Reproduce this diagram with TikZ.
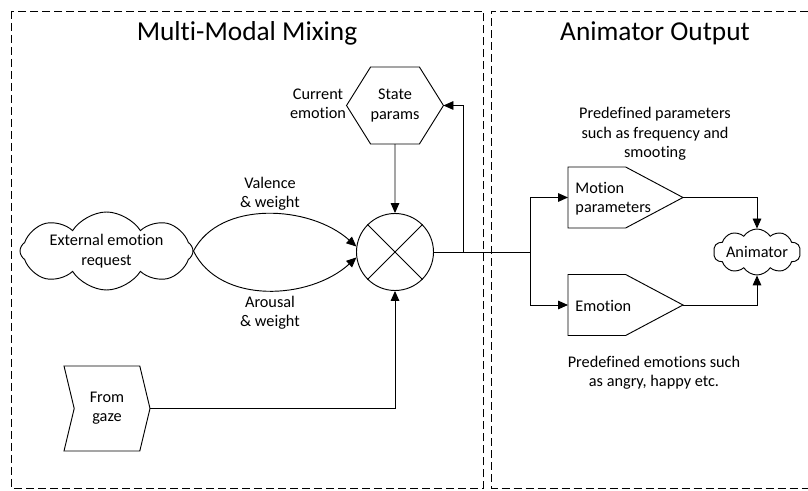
\documentclass[tikz,border=0pt]{standalone}
\usepackage{fontspec}
\setmainfont{Carlito}[Ligatures=CommonOff]
\usetikzlibrary{shapes.symbols,shapes.geometric,arrows.meta}
\begin{document}
\begin{tikzpicture}[x=0.75pt,y=-0.75pt,
  line width=0.7pt,
  every node/.style={font=\fontsize{12.2}{14.5}\selectfont, align=center, inner sep=0pt},
  arr/.style={-{Triangle[length=7.5pt,width=6.5pt]}},
  region/.style={dash pattern=on 6pt off 3pt, line width=0.6pt},
  heading/.style={font=\fontsize{20.5}{24}\selectfont},
  puffy/.style={draw, cloud, cloud ignores aspect, cloud puffs=#1, cloud puff arc=115},
  flag/.style={draw, signal, outer sep=0pt}
]
\useasboundingbox (0,0) rectangle (808,491);

% the two dashed regions
\draw[region] (11,11) rectangle (483.5,488);
\draw[region] (807.5,11) -- (491,11) -- (491,488) -- (807.5,488);

\node[heading] (t1) at (247,33) {Multi-Modal Mixing};
\node[heading] (t2) at (655,33) {Animator Output};

% mixing side
\node[flag, signal to=west and east, signal pointer angle=116,
      minimum width=68.25pt, minimum height=57.75pt] (state) at (395,105.5) {State\\params};
\node (cur) at (318,104) {Current\\emotion};
\node[draw, circle, minimum size=57.75pt] (mixer) at (395,252) {};
\draw (mixer.45) -- (mixer.225) (mixer.135) -- (mixer.315);
\node[puffy=8, shape border rotate=22.5, minimum width=129.75pt, minimum height=58.5pt] (ext) at (106.5,251) {External emotion\\request};
\coordinate (extout) at (ext.east);
\node[flag, signal from=west, signal to=east, signal pointer angle=153,
      minimum width=64.5pt, minimum height=63.75pt] (gaze) at (107,408.5) {From\\gaze};
\node (val) at (270,193.5) {Valence\\\& weight};
\node (aro) at (270,312.5) {Arousal\\\& weight};

% output side
\node[flag, signal to=east, signal pointer angle=56, anchor=west,
      minimum width=86.25pt, minimum height=45.75pt] (motion) at (568,197.5) {};
\node[anchor=west, align=left] (motiontxt) at (575,198.5) {Motion\\parameters};
\node[flag, signal to=east, signal pointer angle=56, anchor=west,
      minimum width=86.25pt, minimum height=45.75pt] (emotion) at (568,305) {};
\node[anchor=west] (emotiontxt) at (575,305.5) {Emotion};
\node[puffy=10, minimum width=65.25pt, minimum height=34.5pt] (anim) at (757,252) {Animator};
\node (pp) at (655,134) {Predefined parameters\\such as frequency and\\smooting};
\node (pe) at (654,373) {Predefined emotions such\\as angry, happy etc.};

% connectors
\coordinate (fb) at (463,252);
\coordinate (split) at (530,252);
\draw[arr] (state) -- (mixer);
\draw[arr] (extout) .. controls (220,200) and (310,205) .. (mixer.172);
\draw[arr] (extout) .. controls (220,305) and (310,300) .. (mixer.188);
\draw[arr] (gaze.east) -| (mixer.south);
\draw (mixer.east) -- (split);
\draw[arr] (fb) |- (state.east);
\draw[arr] (split) |- (motion.west);
\draw[arr] (split) |- (emotion.west);
\draw[arr] (motion.east) -| (anim.north);
\draw[arr] (emotion.east) -| (anim.south);
\end{tikzpicture}
\end{document}
